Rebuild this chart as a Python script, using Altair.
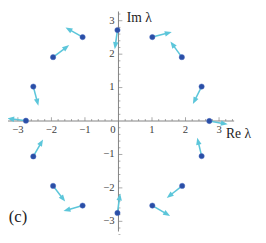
import math
import altair as alt
import pandas as pd

# eigenvalues (dots) and arrow tips
dot_re = [2.71, 2.48, 1.89, 1.01, -0.03, -1.07, -1.95, -2.54, -2.76, -2.54, -1.95, -1.07, -0.03, 1.01, 1.90, 2.48]
dot_im = [0.00, 1.03, 1.91, 2.51, 2.72, 2.51, 1.91, 1.03, 0.01, -1.06, -1.94, -2.53, -2.75, -2.53, -1.94, -1.05]
tip_re = [3.26, 2.22, 1.55, 1.59, -0.11, -1.58, -1.47, -2.39, -3.32, -2.25, -1.59, -1.64, 0.05, 1.54, 1.44, 2.35]
tip_im = [-0.10, 0.51, 2.38, 2.66, 2.15, 2.80, 2.27, 0.46, 0.08, -0.55, -2.41, -2.69, -2.17, -2.84, -2.30, -0.50]

# axes
tick_vals = [round(-3.4 + 0.2 * i, 1) for i in range(35)]
x_label_vals = [-3, -2, -1, 1, 2, 3]
x_label_text = ["\u22123", "\u22122", "\u22121", "1", "2", "3"]
y_label_vals = [-3, -2, -1, 1, 2, 3]
y_label_text = ["\u22123", "\u22122", "\u22121", "1", "2", "3"]

W, H = 258, 227
XD = [-3.295, 4.162]
YD = [-3.304, 3.275]
PX_X = W / (XD[1] - XD[0])
PX_Y = H / (YD[1] - YD[0])

rows = []
for a, b, c, d in zip(dot_re, dot_im, tip_re, tip_im):
    dxp, dyp = (c - a) * PX_X, (d - b) * PX_Y
    ang = math.degrees(math.atan2(dxp, dyp)) % 360
    rows.append({"re": a, "im": b, "tre": c, "tim": d,
                 "ere": a + 0.8 * (c - a), "eim": b + 0.8 * (d - b), "ang": ang})
df = pd.DataFrame(rows)

xs = alt.Scale(domain=XD, nice=False, zero=False)
ys = alt.Scale(domain=YD, nice=False, zero=False)
X = lambda f: alt.X(f, type="quantitative", scale=xs, axis=None)
Y = lambda f: alt.Y(f, type="quantitative", scale=ys, axis=None)

AX = "#808080"
LAB = "#404040"
FONT = "Liberation Serif"

ax_df = pd.DataFrame({"x1": [-3.5, 0.0], "x2": [3.45, 0.0], "y1": [0.0, -3.5], "y2": [0.0, 3.5]})
axes = alt.Chart(ax_df).mark_rule(color=AX, strokeWidth=1, clip=True).encode(
    x=X("x1"), x2="x2", y=Y("y1"), y2="y2")

tdf = pd.DataFrame({"v": tick_vals, "z": [0.0] * len(tick_vals),
                    "major": [abs(v - round(v)) < 1e-9 and v != 0 for v in tick_vals]})
tmin = tdf[~tdf["major"] & (tdf["v"] != 0)]
tmaj = tdf[tdf["major"]]
xt_min = alt.Chart(tmin).mark_tick(orient="vertical", size=2, thickness=1, yOffset=-1, color=AX).encode(x=X("v"), y=Y("z"))
xt_maj = alt.Chart(tmaj).mark_tick(orient="vertical", size=4, thickness=1, yOffset=-2, color=AX).encode(x=X("v"), y=Y("z"))
yt_min = alt.Chart(tmin).mark_tick(orient="horizontal", size=2, thickness=1, xOffset=1, color=AX).encode(y=Y("v"), x=X("z"))
yt_maj = alt.Chart(tmaj).mark_tick(orient="horizontal", size=4, thickness=1, xOffset=2, color=AX).encode(y=Y("v"), x=X("z"))

xl_df = pd.DataFrame({"v": x_label_vals, "t": x_label_text, "z": [0.0] * 6})
xlab = alt.Chart(xl_df).mark_text(font=FONT, fontSize=11, color=LAB, align="center",
                                  baseline="alphabetic", dy=12).encode(x=X("v"), y=Y("z"), text="t")
yl_df = pd.DataFrame({"v": y_label_vals, "t": y_label_text, "z": [0.0] * 6})
ylab = alt.Chart(yl_df).mark_text(font=FONT, fontSize=11, color=LAB, align="right",
                                  baseline="middle", dx=-4).encode(y=Y("v"), x=X("z"), text="t")
zero = alt.Chart(pd.DataFrame({"x": [0.0], "y": [0.0], "t": ["0"]})).mark_text(
    font=FONT, fontSize=11, color=LAB, align="right", baseline="alphabetic", dx=-3, dy=12
).encode(x=X("x"), y=Y("y"), text="t")

ann_df = pd.DataFrame({"x": [0.25, 3.21], "y": [2.96, -0.52], "t": ["Im \u03bb", "Re \u03bb"]})
ann = alt.Chart(ann_df).mark_text(font=FONT, fontSize=14, color="#222222", align="left",
                                  baseline="alphabetic").encode(x=X("x"), y=Y("y"), text="t")
lab_df = pd.DataFrame({"x": [-3.27], "y": [-3.01], "t": ["(c)"]})
panel = alt.Chart(lab_df).mark_text(font=FONT, fontSize=17, color="#222222", align="left",
                                    baseline="alphabetic").encode(x=X("x"), y=Y("y"), text="t")

CY = "#5cc6da"
shafts = alt.Chart(df).mark_rule(color=CY, strokeWidth=1.6).encode(x=X("re"), y=Y("im"), x2="ere", y2="eim")
heads = alt.Chart(df).mark_point(shape="M0,0L-1.4,3.6L1.4,3.6Z", filled=True, size=16, color=CY,
                                 opacity=1, strokeWidth=0).encode(x=X("tre"), y=Y("tim"), angle=alt.Angle("ang:Q", scale=None))
dots = alt.Chart(df).mark_circle(size=30, color="#2a4ea6", opacity=1, stroke="#4a6cc0", strokeWidth=0.5).encode(
    x=X("re"), y=Y("im"))

chart = alt.layer(axes, xt_min, xt_maj, yt_min, yt_maj, xlab, ylab, zero, ann, panel,
                  shafts, heads, dots).properties(
    width=W, height=H, autosize=alt.AutoSizeParams(type="none"), padding=0
).configure_view(stroke=None)

chart.save("out.html", embed_options={"renderer": "svg", "actions": False})
